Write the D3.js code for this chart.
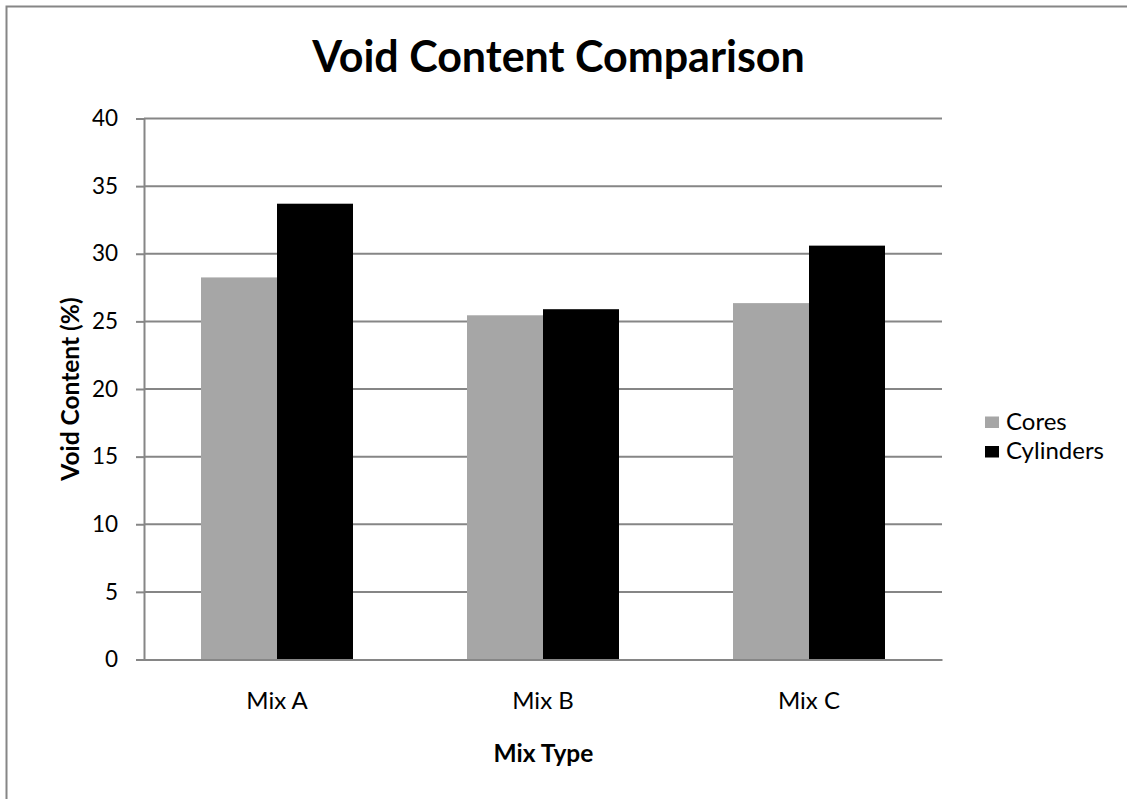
<!DOCTYPE html>
<html>
<head>
<meta charset="utf-8">
<script src="https://cdn.jsdelivr.net/npm/d3@7"></script>
<style>
  html, body { margin: 0; padding: 0; background: #fff; }
  svg { display: block; font-family: Lato, "Open Sans", sans-serif; }
</style>
</head>
<body>
<svg id="chart" width="1127" height="799"></svg>
<script>
// Chart data
const categories = ["Mix A", "Mix B", "Mix C"];
const seriesNames = ["Cores", "Cylinders"];
const cores = [28.25, 25.45, 26.35];
const cylinders = [33.7, 25.9, 30.6];
const yTicks = [0, 5, 10, 15, 20, 25, 30, 35, 40];
const seriesColors = ["#a6a6a6", "#000000"];

const title = "Void Content Comparison";
const xTitle = "Mix Type";
const yTitle = "Void Content (%)";

const svg = d3.select("#chart");
const W = 1127, H = 799;

// Plot area
const plot = { left: 144, right: 942, top: 118.5, bottom: 659.5 };

// Outer chart frame
svg.append("rect")
  .attr("x", 6.5).attr("y", 6.5)
  .attr("width", W + 20).attr("height", H + 20)
  .attr("fill", "#fff")
  .attr("stroke", "#868686").attr("stroke-width", 2);

const x0 = d3.scaleBand()
  .domain(categories)
  .range([plot.left, plot.right])
  .paddingInner(0).paddingOuter(0);

// Two bars per group, gap between groups = 150% of a bar width
const barW = x0.bandwidth() / 3.5;
const x1 = d3.scaleBand()
  .domain(seriesNames)
  .range([0, barW * 2])
  .padding(0);

const y = d3.scaleLinear().domain([0, 40]).range([plot.bottom, plot.top]);

// Horizontal gridlines
svg.append("g")
  .selectAll("line")
  .data(yTicks.filter(d => d > 0))
  .join("line")
  .attr("x1", plot.left).attr("x2", plot.right)
  .attr("y1", d => y(d)).attr("y2", d => y(d))
  .attr("stroke", "#868686").attr("stroke-width", 2);

// Bars
const rows = categories.map((c, i) => ({ cat: c, values: [cores[i], cylinders[i]] }));
const groups = svg.append("g")
  .selectAll("g")
  .data(rows)
  .join("g")
  .attr("transform", d => `translate(${x0(d.cat) + (x0.bandwidth() - barW * 2) / 2},0)`);

groups.selectAll("rect")
  .data(d => d.values.map((v, j) => ({ name: seriesNames[j], v, j })))
  .join("rect")
  .attr("x", d => x1(d.name))
  .attr("width", x1.bandwidth())
  .attr("y", d => y(d.v))
  .attr("height", d => y(0) - y(d.v))
  .attr("fill", d => seriesColors[d.j]);

// Y axis
const yAxis = d3.axisLeft(y).tickValues(yTicks).tickSize(8).tickPadding(18).tickFormat(d3.format("d"));
const gy = svg.append("g")
  .attr("transform", `translate(${plot.left},0)`)
  .call(yAxis);
gy.select(".domain").attr("stroke", "#868686").attr("stroke-width", 2);
gy.selectAll(".tick line").attr("stroke", "#868686").attr("stroke-width", 2);
gy.selectAll(".tick text")
  .attr("font-family", "Lato, sans-serif")
  .attr("font-size", 22.5).attr("fill", "#000");

// X axis
const xAxis = d3.axisBottom(x0).tickSize(0).tickPadding(32);
const gx = svg.append("g")
  .attr("transform", `translate(0,${plot.bottom})`)
  .call(xAxis);
gx.select(".domain").attr("stroke", "#868686").attr("stroke-width", 2);
gx.selectAll(".tick text")
  .attr("font-family", "Lato, sans-serif")
  .attr("font-size", 24).attr("fill", "#000");

// Titles
svg.append("text")
  .attr("x", 558.5).attr("y", 72)
  .attr("text-anchor", "middle")
  .attr("font-size", 43).attr("font-weight", "bold")
  .text(title);

svg.append("text")
  .attr("x", 543.5).attr("y", 762)
  .attr("text-anchor", "middle")
  .attr("font-size", 24.5).attr("font-weight", "bold")
  .text(xTitle);

svg.append("text")
  .attr("transform", `translate(79,${(plot.top + plot.bottom) / 2}) rotate(-90)`)
  .attr("text-anchor", "middle")
  .attr("font-size", 24.5).attr("font-weight", "bold")
  .text(yTitle);

// Legend
const legend = svg.append("g")
  .selectAll("g")
  .data(seriesNames)
  .join("g")
  .attr("transform", (d, i) => `translate(985,${416.5 + i * 29.5})`);
legend.append("rect")
  .attr("width", 14).attr("height", 11.5)
  .attr("fill", (d, i) => seriesColors[i]);
legend.append("text")
  .attr("x", 21).attr("y", 13)
  .attr("font-size", 24)
  .text(d => d);
</script>
</body>
</html>
